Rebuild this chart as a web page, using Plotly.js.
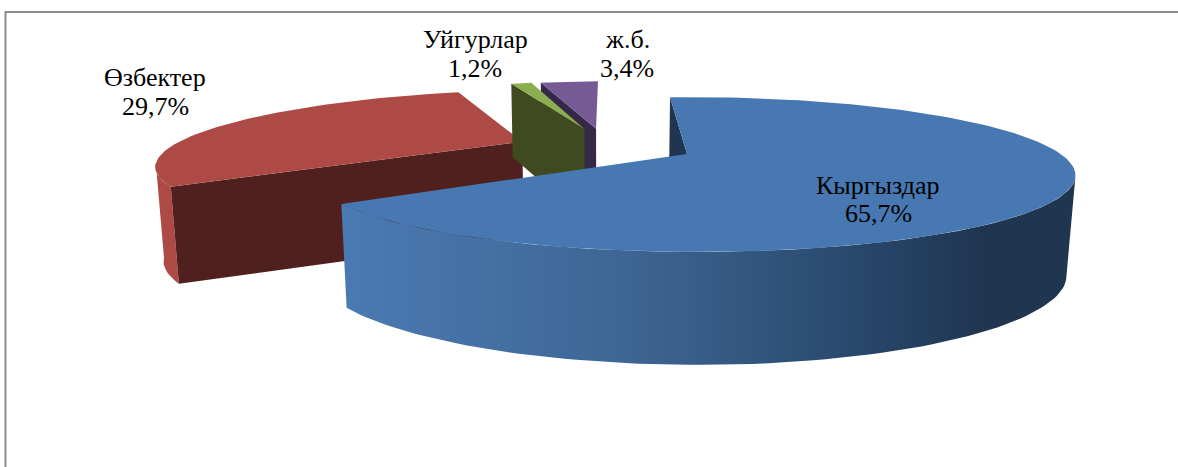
<!DOCTYPE html>
<html>
<head>
<meta charset="utf-8">
<script src="https://cdn.plot.ly/plotly-3.0.1.min.js"></script>
<style>html,body{margin:0;padding:0;background:#fff}#chart{width:1178px;height:467px}</style>
</head>
<body>
<div id="chart"></div>
<script>
// Data
const categories = ['Кыргыздар', 'Өзбектер', 'Уйгурлар', 'ж.б.'];
const shares = [65.7, 29.7, 1.2, 3.4];
const percentLabels = ['65,7%', '29,7%', '1,2%', '3,4%'];

// Styles
const topColors = ['#4878b1', '#ae4a46', '#8cae50', '#755a95'];
const edgeColors = ['#1f3550', '#4f201d', '#3f4a21', '#352848'];
const explodeX = [0, -0.46, -0.285, -0.25];
const explodeY = [0, 0.205, 0.4, 0.4];
const labelX = [878, 155, 475, 627];
const nameY = [185, 77, 39, 39];
const percentY = [213, 106, 68, 68];

// View of the tilted pie
const VX = 606, VY = -118, AX = 687, AY = 154, FX = 368, P = 0.265, SHEAR = -0.01;
function wallHeight(X, Y) {
  const h = Y > 0 ? 100 / (1 + P * Y) : 100 + 13 * Y * Y;
  return h * (1 + 0.09 * Math.min(0, X + 0.8));
}
function project(X, Y, down) {
  const w = 1 + P * Y;
  let x = VX + (AX - VX + FX * X) / w;
  let y = VY + (AY - VY) / w + (x - AX) * SHEAR;
  if (down) { const h = wallHeight(X, Y); x += (VX - x) * 0.0192 * h / 100; y += h; }
  return [x, y];
}
function rim(i, deg, down) {
  const a = deg * Math.PI / 180;
  return project(explodeX[i] + Math.sin(a), explodeY[i] + Math.cos(a), down);
}
function hub(i, down) { return project(explodeX[i], explodeY[i], down); }
function poly(points, color, gradient) {
  const t = {
    type: 'scatter', mode: 'lines', fill: 'toself',
    x: points.map(p => p[0]), y: points.map(p => p[1]),
    line: { width: 0 }, fillcolor: color, hoverinfo: 'skip', showlegend: false
  };
  if (gradient) { delete t.fillcolor; t.fillgradient = gradient; }
  return t;
}
function arc(i, from, to, down) {
  const pts = [], n = Math.max(2, Math.ceil(Math.abs(to - from) / 1.5));
  for (let k = 0; k <= n; k++) pts.push(rim(i, from + (to - from) * k / n, down));
  return pts;
}

// Slice angles
const total = shares.reduce((a, b) => a + b, 0);
const startDeg = [], endDeg = [];
let acc = 0;
shares.forEach((v, i) => { startDeg[i] = acc / total * 360; acc += v; endDeg[i] = acc / total * 360; });

const traces = [];
function topFace(i) { traces.push(poly([hub(i, false), ...arc(i, startDeg[i], endDeg[i], false)], topColors[i])); }
function radialWall(i, deg) {
  traces.push(poly([hub(i, false), rim(i, deg, false), rim(i, deg, true), hub(i, true)], edgeColors[i]));
}

// Өзбектер
traces.push(poly([...arc(1, startDeg[1], 255, false), ...arc(1, 255, startDeg[1], true)], topColors[1]));
radialWall(1, startDeg[1]);
topFace(1);
// ж.б.
radialWall(3, startDeg[3]);
topFace(3);
// Уйгурлар
radialWall(2, startDeg[2]);
topFace(2);
// Кыргыздар
traces.push(poly([...arc(0, 110, endDeg[0], false), ...arc(0, endDeg[0], 110, true)], topColors[0], {
  type: 'horizontal', start: 350, stop: 985,
  colorscale: [[0, '#4a7ab2'], [0.45, '#3d6592'], [0.75, '#2c4c72'], [1, '#1f3550']]
}));
radialWall(0, startDeg[0]);
topFace(0);

function label(text, x, y) {
  return {
    x, y, xref: 'x', yref: 'y', showarrow: false, text,
    font: { family: '"Liberation Serif", serif', size: 26, color: '#000' }
  };
}
const annotations = [
  ...categories.map((c, i) => label(c, labelX[i], nameY[i])),
  ...percentLabels.map((p, i) => label(p, labelX[i], percentY[i]))
];

Plotly.newPlot('chart', traces, {
  width: 1178, height: 467, margin: { l: 0, r: 0, t: 0, b: 0 },
  paper_bgcolor: '#fff', plot_bgcolor: '#fff', showlegend: false,
  xaxis: { range: [0, 1178], visible: false, fixedrange: true },
  yaxis: { range: [467, 0], visible: false, fixedrange: true },
  annotations,
  shapes: [{ type: 'path', path: 'M 5.5 467 L 5.5 12 L 1178 12', xref: 'x', yref: 'y', line: { color: '#8c8c8c', width: 2 } }]
}, { displayModeBar: false, staticPlot: true });
</script>
</body>
</html>
